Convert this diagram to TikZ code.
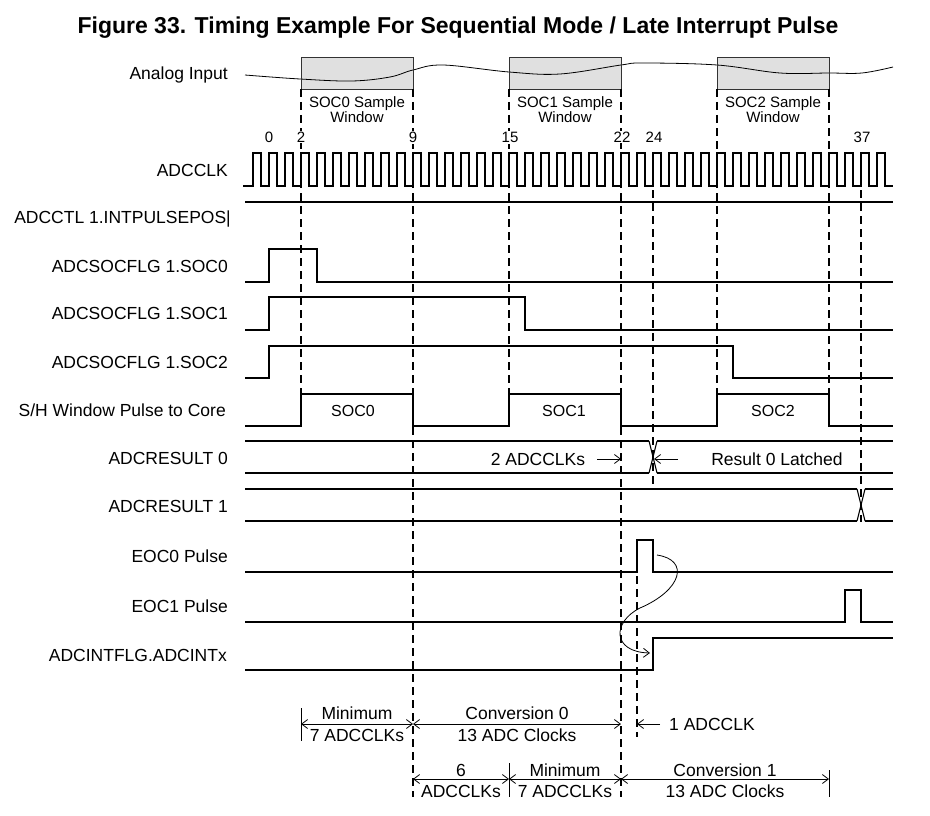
\documentclass[tikz,border=0pt]{standalone}
\usepackage{fontspec}
\setmainfont{Liberation Sans}
\usetikzlibrary{arrows.meta}
\begin{document}
\begin{tikzpicture}[x=1pt,y=-1pt,
  sig/.style={line width=2.6pt},
  xsig/.style={line width=1.1pt},
  dsh/.style={line width=1.7pt, dash pattern=on 8pt off 5pt},
  lab/.style={anchor=base east, inner sep=0pt, font=\fontsize{17.5}{20}\selectfont, yshift=-6.2pt},
  ann/.style={anchor=base, inner sep=0pt, font=\fontsize{17.5}{20}\selectfont, yshift=-6.2pt},
  annw/.style={anchor=base west, inner sep=0pt, font=\fontsize{17.5}{20}\selectfont, yshift=-6.2pt},
  wtxt/.style={anchor=base, inner sep=0pt, font=\fontsize{15}{17}\selectfont, yshift=-5.4pt},
  stxt/.style={anchor=base, inner sep=0pt, font=\fontsize{16}{18}\selectfont, yshift=-5.7pt},
  num/.style={anchor=base, inner sep=1pt, fill=white, font=\fontsize{15}{17}\selectfont, yshift=-5.4pt},
  winbox/.style={draw=black!80, line width=0.8pt, fill=black!12, minimum width=112pt, minimum height=32pt, inner sep=0pt},
  dim/.style={line width=0.8pt, {Straight Barb[length=6pt,width=9pt]}-{Straight Barb[length=6pt,width=9pt]}},
  arr/.style={line width=0.8pt, -{Straight Barb[length=6pt,width=9pt]}},
  bar/.style={line width=0.9pt}
]
\useasboundingbox (0,0) rectangle (930,816);

% title
\node[anchor=base, inner sep=0pt, font=\bfseries\fontsize{23}{26}\selectfont] (title) at (458,34)
  {Figure 33. Timing Example For Sequential Mode / Late Interrupt Pulse};

% labels
\node[lab] (lA)  at (228,73)  {Analog Input};
\node[lab] (lC)  at (228,170) {ADCCLK};
\node[lab] (lI)  at (231,217) {ADCCTL 1.INTPULSEPOS|};
\node[lab] (lS0) at (228,266) {ADCSOCFLG 1.SOC0};
\node[lab] (lS1) at (228,313) {ADCSOCFLG 1.SOC1};
\node[lab] (lS2) at (228,362) {ADCSOCFLG 1.SOC2};
\node[lab] (lSH) at (226,410) {S/H Window Pulse to Core};
\node[lab] (lR0) at (228,458) {ADCRESULT 0};
\node[lab] (lR1) at (228,506) {ADCRESULT 1};
\node[lab] (lE0) at (228,556) {EOC0 Pulse};
\node[lab] (lE1) at (228,606) {EOC1 Pulse};
\node[lab] (lIN) at (227,655) {ADCINTFLG.ADCINTx};

% analog input windows
\node[winbox] (w0) at (357,73) {};
\node[winbox] (w1) at (565,73) {};
\node[winbox] (w2) at (773,73) {};
\draw[line width=0.8pt] plot[smooth, tension=0.6] coordinates {(245,75) (300,79) (352,81) (390,77) (413,70) (443,65) (509,72) (560,74) (621,65) (643,63) (717,65) (780,73) (829,73) (862,73) (893,67)};
\node[winbox, fill=none] (w0b) at (357,73) {};
\node[winbox, fill=none] (w1b) at (565,73) {};
\node[winbox, fill=none] (w2b) at (773,73) {};

\node[wtxt] (w0t1) at (357,102) {SOC0 Sample};
\node[wtxt] (w0t2) at (357,117) {Window};
\node[wtxt] (w1t1) at (565,102) {SOC1 Sample};
\node[wtxt] (w1t2) at (565,117) {Window};
\node[wtxt] (w2t1) at (773,102) {SOC2 Sample};
\node[wtxt] (w2t2) at (773,117) {Window};

% dashed verticals
\draw[dsh] (301,89) -- (301,394);
\draw[dsh] (413,89) -- (413,797);
\draw[dsh] (509,89) -- (509,394);
\draw[dsh] (621,89) -- (621,797);
\draw[dsh] (717,89) -- (717,394);
\draw[dsh] (829,89) -- (829,394);
\draw[dsh] (653,190) -- (653,484);
\draw[dsh] (861,190) -- (861,522);
\draw[dsh] (637,576) -- (637,737);

% numbers
\node[num] (n0)  at (269,137) {0};
\node[num] (n2)  at (301,137) {2};
\node[num] (n9)  at (413,137) {9};
\node[num] (n15) at (510,137) {15};
\node[num] (n22) at (622,137) {22};
\node[num] (n24) at (654,137) {24};
\node[num] (n37) at (862,137) {37};

% clock
\draw[sig] (243,186) -- (253,186)
  \foreach \n in {-1,...,38} { -- ({269+16*\n},186) -- ({269+16*\n},153) -- ({277+16*\n},153) -- ({277+16*\n},186) }
  -- (893,186);

% signals
\draw[sig] (245,202) -- (893,202);
\draw[sig] (245,282) -- (269,282) -- (269,249) -- (317,249) -- (317,282) -- (893,282);
\draw[sig] (245,330) -- (269,330) -- (269,297) -- (525,297) -- (525,330) -- (893,330);
\draw[sig] (245,378) -- (269,378) -- (269,346) -- (733,346) -- (733,378) -- (893,378);
\draw[sig] (245,426) -- (301,426) -- (301,394) -- (413,394) -- (413,426) -- (509,426) -- (509,394) -- (621,394) -- (621,426) -- (717,426) -- (717,394) -- (829,394) -- (829,426) -- (893,426);
\node[stxt] (soc0) at (353,411) {SOC0};
\node[stxt] (soc1) at (564,411) {SOC1};
\node[stxt] (soc2) at (773,411) {SOC2};

% ADCRESULT 0
\draw[sig] (245,441) -- (649,441);
\draw[sig] (657,441) -- (893,441);
\draw[sig] (245,473) -- (649,473);
\draw[sig] (657,473) -- (893,473);
\draw[xsig] (649,441) -- (657,473) (649,473) -- (657,441);
\node[ann] (t2clk) at (538,459) {2 ADCCLKs};
\coordinate (a2s) at (597,459);
\coordinate (a2e) at (621,459);
\draw[arr] (a2s) -- (a2e);
\coordinate (ars) at (678,459);
\coordinate (are) at (654,459);
\draw[arr] (ars) -- (are);
\node[ann] (tres) at (777,459) {Result 0 Latched};

% ADCRESULT 1
\draw[sig] (245,489) -- (857,489);
\draw[sig] (865,489) -- (893,489);
\draw[sig] (245,521) -- (857,521);
\draw[sig] (865,521) -- (893,521);
\draw[xsig] (857,489) -- (865,521) (857,521) -- (865,489);

% EOC / INT
\draw[sig] (245,572) -- (637,572) -- (637,540) -- (653,540) -- (653,572) -- (893,572);
\draw[sig] (245,622) -- (845,622) -- (845,590) -- (861,590) -- (861,622) -- (893,622);
\draw[sig] (245,670) -- (653,670) -- (653,638) -- (893,638);
\draw[arr] (657,555) .. controls (690,560) and (682,590) .. (640,608) .. controls (612,622) and (612,652) .. (650,653);

% bottom annotations row 1
\draw[bar] (301,708) -- (301,741);
\draw[dim] (301,724) -- (413,724);
\draw[dim] (413,724) -- (621,724);
\node[ann] (m1a) at (357,713) {Minimum};
\node[ann] (m1b) at (357,735) {7 ADCCLKs};
\node[ann] (c0a) at (517,713) {Conversion 0};
\node[ann] (c0b) at (517,735) {13 ADC Clocks};
\draw[arr] (660,724) -- (637,724);
\node[annw] (one) at (669,724) {1 ADCCLK};

% row 2
\draw[bar] (509,763) -- (509,797);
\draw[bar] (829,770) -- (829,797);
\draw[dim] (413,779) -- (509,779);
\draw[dim] (509,779) -- (621,779);
\draw[dim] (621,779) -- (829,779);
\node[ann] (s6a) at (461,770) {6};
\node[ann] (s6b) at (461,791) {ADCCLKs};
\node[ann] (m2a) at (565,770) {Minimum};
\node[ann] (m2b) at (565,791) {7 ADCCLKs};
\node[ann] (c1a) at (725,770) {Conversion 1};
\node[ann] (c1b) at (725,791) {13 ADC Clocks};
\end{tikzpicture}
\end{document}
